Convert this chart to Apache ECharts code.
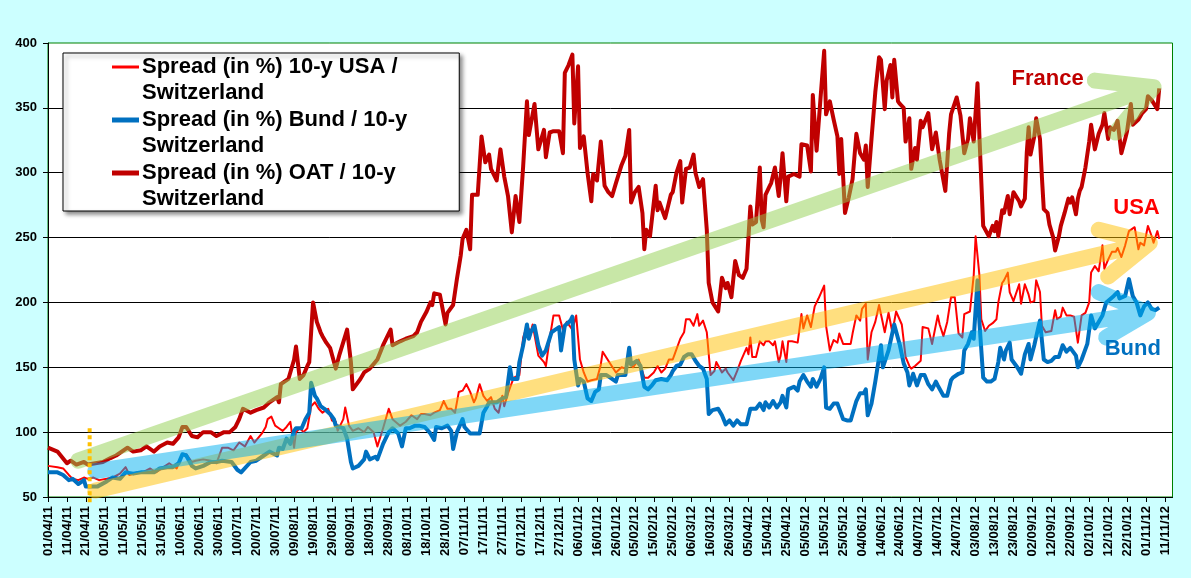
<!DOCTYPE html>
<html>
<head>
<meta charset="utf-8">
<script src="https://cdn.jsdelivr.net/npm/echarts@6/dist/echarts.min.js"></script>
<style>
html, body { margin: 0; padding: 0; background: #ccffff; }
#chart { width: 1191px; height: 578px; }
</style>
</head>
<body>
<div id="chart"></div>
<script>
// daily category axis, 01/04/11 .. 15/11/12
const startDay = Date.UTC(2011, 3, 1);
const dayCount = 595;

const seriesNames = [
	"Spread (in %) 10-y USA / Switzerland",
	"Spread (in %) Bund / 10-y Switzerland",
	"Spread (in %) OAT / 10-y Switzerland",
];
const legendLines = [
	["Spread (in %) 10-y USA /", "Switzerland"],
	["Spread (in %) Bund / 10-y", "Switzerland"],
	["Spread (in %) OAT / 10-y", "Switzerland"],
];

// [day index, spread in bp]
const usa = [
	[0,74],[5,73],[8,72],[11,67],[13,64],[16,63],[19,65],[21,64],[24,65],[27,63],[31,64],[34,65],[38,68],[41,73],[43,67],[47,69],[50,69],[54,72],[57,69],[61,73],[64,76],[68,72],[71,83],[73,83],[76,77],[78,78],[82,79],[86,78],[89,76],[92,88],[95,88],[98,86],
	[101,92],[104,89],[107,97],[109,92],[113,99],[115,104],[116,110],[118,112],[120,105],[122,103],[124,101],[126,104],[128,108],[130,88],[131,100],[133,103],[135,100],[137,103],[139,120],[141,123],[143,118],[145,115],[148,118],[150,109],[152,108],[153,101],[156,110],[157,119],[159,105],[161,101],[164,103],[167,100],[169,104],[172,100],[174,89],[177,103],[180,118],[182,110],[186,105],[189,108],[192,113],[195,110],[197,114],
	[199,114],[202,113],[204,115],[207,117],[209,124],[211,118],[213,118],[215,115],[217,131],[219,132],[221,137],[223,131],[225,123],[226,126],[228,137],[230,128],[232,124],[234,127],[236,118],[238,115],[240,128],[241,120],[243,130],[246,142],[249,144],[251,173],[253,182],[255,177],[256,183],[259,159],[262,154],[263,151],[265,172],[267,190],[270,190],[272,179],[274,185],[277,179],[279,190],[281,156],[283,146],[285,139],[287,140],[290,141],[292,152],[293,162],[296,155],
	[297,154],[300,146],[303,150],[305,149],[307,155],[309,150],[312,156],[315,142],[317,142],[320,146],[322,151],[324,146],[326,149],[328,156],[330,156],[331,160],[334,172],[336,177],[337,187],[339,187],[341,182],[343,191],[344,182],[346,186],[348,177],[350,144],[352,147],[353,154],[354,153],[356,146],[358,149],[359,146],[362,140],[364,147],[366,155],[367,154],[369,165],[370,160],[371,173],[372,158],[374,158],[376,170],[378,167],[379,170],[381,170],[383,167],[384,170],[386,154],[387,159],[388,170],[390,154],[391,170],[393,170],[396,169],[398,191],
	[399,180],[401,190],[403,181],[405,197],[407,203],[410,213],[411,182],[413,163],[415,171],[417,169],[418,176],[420,168],[422,168],[424,168],[425,176],[427,190],[429,186],[430,195],[432,199],[433,156],[435,177],[437,185],[439,198],[440,198],[442,177],[444,192],[446,177],[448,193],[451,183],[453,158],[455,151],[456,149],[458,151],[461,155],[462,181],[465,180],[467,168],[470,190],[471,183],[473,174],[475,185],[477,204],[479,204],[481,176],[483,173],[484,191],[487,193],[489,221],[490,251],[492,221],[493,187],[495,178],[497,182],[499,184],[501,187],
	[502,200],[504,215],[505,217],[507,223],[508,208],[510,201],[513,214],[514,199],[516,214],[518,206],[519,200],[521,201],[522,217],[524,208],[525,182],[527,177],[528,177],[530,178],[532,194],[533,187],[535,189],[536,196],[538,190],[540,190],[542,189],[544,169],[546,190],[548,192],[550,200],[551,223],[553,228],[555,224],[557,244],[558,226],[560,233],[562,239],[564,239],[565,242],[567,235],[569,244],[571,255],[572,254],[574,258],[576,241],[577,246],[579,244],[581,259],[583,251],[584,246],[586,255],[587,249],
];

const bund = [
	[0,69],[5,69],[8,67],[11,63],[13,64],[16,60],[19,63],[20,58],[23,58],[26,58],[31,62],[34,65],[38,64],[41,69],[45,68],[49,69],[52,69],[56,69],[59,72],[63,73],[66,73],[69,76],[71,83],[73,82],[76,74],[78,72],[82,74],[86,77],[89,77],[92,78],[97,77],[100,71],[102,69],
	[107,77],[110,78],[114,82],[117,85],[121,82],[122,88],[124,87],[126,95],[128,91],[130,101],[131,103],[134,103],[136,110],[138,115],[139,138],[141,128],[142,126],[144,120],[146,118],[149,114],[151,110],[152,105],[154,104],[156,103],[158,95],[160,77],[161,72],[164,74],[167,79],[168,85],[170,79],[173,81],[174,79],[177,91],[180,100],[182,103],[185,99],[187,89],[189,103],[191,103],[194,105],[196,105],
	[199,104],[202,99],[204,94],[205,104],[208,103],[211,105],[213,101],[214,87],[216,100],[219,110],[220,104],[223,99],[226,99],[228,99],[230,115],[232,120],[233,123],[237,123],[240,126],[242,127],[244,150],[245,141],[248,141],[249,154],[251,167],[253,183],[254,172],[255,177],[257,182],[259,167],[261,159],[263,163],[264,162],[266,177],[268,179],[270,181],[271,163],[273,182],[276,186],[277,189],[278,156],[280,136],[281,141],[283,139],[285,126],[287,124],[289,131],[291,133],[292,144],[295,144],[297,142],
	[300,139],[301,144],[305,144],[307,165],[308,152],[311,155],[313,151],[315,135],[317,133],[319,136],[321,140],[322,139],[324,141],[327,140],[329,144],[330,147],[332,151],[334,152],[336,158],[338,160],[340,160],[342,155],[344,151],[346,149],[348,141],[349,114],[351,117],[354,118],[356,113],[358,106],[360,109],[362,105],[364,109],[366,106],[369,106],[371,118],[374,118],[376,122],[378,117],[379,123],[381,119],[383,124],[385,119],[387,123],[388,128],[390,119],[391,133],[394,135],[396,132],[397,139],[399,144],[401,139],[403,135],
	[404,141],[406,135],[408,141],[410,150],[411,119],[413,118],[415,122],[417,122],[418,123],[420,110],[422,109],[424,109],[425,114],[427,124],[429,130],[431,130],[432,133],[433,113],[435,122],[437,139],[440,167],[441,150],[444,163],[447,183],[450,167],[452,153],[454,146],[455,136],[457,145],[459,136],[461,144],[463,144],[465,137],[467,133],[469,139],[470,136],[473,128],[475,128],[477,140],[478,142],[481,145],[483,146],[484,163],[486,168],[488,177],[489,172],[491,217],[492,185],[494,142],[496,139],[498,139],[500,141],
	[502,154],[503,165],[505,156],[506,163],[508,169],[509,156],[512,150],[514,145],[516,160],[518,168],[519,156],[521,167],[523,180],[524,186],[526,156],[528,154],[530,155],[532,158],[534,158],[536,167],[538,162],[540,165],[543,159],[544,150],[546,156],[549,168],[551,190],[553,180],[555,185],[557,190],[559,200],[560,200],[563,205],[565,208],[566,203],[569,205],[571,218],[573,205],[575,200],[577,190],[579,197],[581,200],[583,195],[585,194],[587,196],
];

const oat = [
	[0,88],[5,85],[10,76],[12,78],[15,75],[19,77],[21,75],[29,77],[33,80],[36,82],[42,88],[45,85],[49,86],[52,89],[56,85],[59,89],[63,92],[66,91],[69,96],[71,104],[73,104],[76,97],[79,96],[82,100],[86,100],[89,97],[93,100],[96,100],[99,104],[101,110],
	[103,118],[107,115],[110,117],[114,119],[117,123],[121,127],[122,123],[123,137],[127,141],[130,156],[131,166],[133,141],[135,144],[137,151],[138,154],[140,200],[142,185],[144,177],[145,174],[147,169],[149,165],[152,149],[154,160],[158,179],[160,154],[161,133],[165,141],[167,146],[170,149],[174,156],[177,167],[181,179],[182,167],[186,170],[189,172],[193,174],[195,177],[197,185],[200,193],[202,200],
	[203,198],[204,207],[207,206],[210,183],[211,192],[214,198],[216,218],[218,236],[219,249],[221,256],[223,241],[224,283],[227,283],[229,328],[231,308],[233,314],[234,303],[237,294],[239,318],[241,297],[243,282],[245,254],[247,282],[249,262],[251,305],[253,355],[254,329],[257,353],[259,318],[262,333],[263,312],[265,331],[267,332],[270,332],[272,315],[273,377],[275,383],[277,391],[278,338],[280,382],[281,319],[283,328],[285,300],[287,278],[288,299],[290,294],[292,324],[293,323],[294,290],[296,285],[298,282],[300,292],
	[303,306],[305,313],[307,333],[308,277],[310,285],[312,289],[314,269],[315,241],[316,256],[318,251],[321,290],[322,271],[323,277],[326,265],[329,283],[330,285],[332,300],[334,309],[335,277],[337,303],[339,304],[341,314],[342,300],[344,289],[346,295],[348,256],[349,215],[351,200],[354,193],[356,219],[358,211],[359,215],[361,204],[363,232],[365,221],[367,219],[369,226],[371,274],[372,260],[374,262],[376,304],[377,264],[378,258],[379,283],[381,289],[382,292],[384,304],[386,282],[387,297],[388,315],[390,278],[391,297],[394,299],[397,297],[398,322],
	[401,321],[403,301],[404,360],[406,317],[408,356],[410,394],[411,345],[413,355],[415,341],[417,328],[418,299],[419,326],[421,269],[423,281],[425,295],[427,330],[429,315],[431,310],[432,321],[433,289],[435,326],[437,362],[439,389],[440,387],[442,349],[443,371],[445,383],[446,358],[447,387],[449,355],[450,353],[452,350],[453,324],[455,342],[456,303],[458,319],[459,310],[461,340],[462,335],[465,346],[467,318],[469,331],[471,310],[474,286],[476,330],[477,345],[480,358],[482,344],[484,315],[486,326],[487,342],[489,324],[491,369],[492,328],[494,259],[497,251],[499,259],[500,255],[501,262],[502,251],
	[504,271],[505,269],[507,282],[508,268],[510,285],[513,278],[514,274],[516,280],[517,315],[518,335],[519,314],[521,328],[522,342],[524,326],[525,297],[526,272],[528,269],[529,260],[531,250],[532,240],[534,251],[535,259],[537,269],[539,280],[540,277],[541,281],[543,268],[544,280],[545,286],[546,289],[548,304],[550,324],[551,337],[553,318],[555,330],[557,337],[558,346],[560,326],[561,335],[563,333],[565,340],[567,315],[569,326],[570,332],[572,353],[573,337],[576,341],[578,346],[580,349],[581,359],[583,356],[586,349],[587,365],
];

// trend arrows: shaft start, tip, upper barb, tip, lower barb
const arrowFrance = [[16,78],[584,366],[553,371],[584,366],[564,331]];
const arrowUsa = [[25,55],[582,246],[555,256],[582,246],[560,220]];
const arrowBund = [[25,70],[581,192],[555,208],[581,192],[559,173]];

// dotted marker (22/04/11)
const markerLine = [[22,103],[22,44]];

const annotationNames = ["France", "USA", "Bund"];
const annotationPoints = [[528,372],[575,273],[573,164]];

const lineColors = ["#FF0000", "#0070C0", "#C00000"];
const lineWidths = [2, 4, 4];
const annotationColors = ["#C00000", "#FF0000", "#0070C0"];

const font = 'Arial, "Liberation Sans", sans-serif';

function dayLabel(i) {
	const d = new Date(startDay + i * 86400000);
	const dd = String(d.getUTCDate()).padStart(2, "0");
	const mm = String(d.getUTCMonth() + 1).padStart(2, "0");
	const yy = String(d.getUTCFullYear() % 100).padStart(2, "0");
	return dd + "/" + mm + "/" + yy;
}

const days = [];
for (let i = 0; i < dayCount; i++) days.push(dayLabel(i));

const chart = echarts.init(document.getElementById("chart"));

const rich = {
	t: { fontSize: 22, fontWeight: "bold", fontFamily: font, color: "#000", lineHeight: 26 },
	g: { width: 3 },
	sp: { width: 30 },
};
lineColors.forEach((c, i) => {
	rich["m" + i] = { width: 27, height: i === 0 ? 3 : 5, backgroundColor: c };
});

function arrowSeries(data, color) {
	return {
		type: "line",
		data: data,
		symbol: "none",
		silent: true,
		clip: false,
		lineStyle: { color: color, width: 16, opacity: 0.5, cap: "round", join: "round" },
		z: 5,
	};
}

const option = {
	animation: false,
	backgroundColor: "#ccffff",
	grid: {
		left: 48,
		right: 18.5,
		top: 43,
		bottom: 81,
		show: true,
		backgroundColor: "#fff",
		borderColor: "#008000",
		borderWidth: 1,
	},
	legend: {
		data: seriesNames,
		orient: "vertical",
		left: 63,
		top: 53,
		padding: [3, 52, 1, 43],
		itemGap: 5,
		itemWidth: 0,
		itemHeight: 0,
		itemStyle: { opacity: 0 },
		lineStyle: { opacity: 0 },
		backgroundColor: "#fff",
		borderColor: "#000",
		borderWidth: 1,
		shadowColor: "rgba(0,0,0,0.45)",
		shadowBlur: 4,
		shadowOffsetX: 3,
		shadowOffsetY: 3,
		selectedMode: false,
		formatter: function (name) {
			const i = seriesNames.indexOf(name);
			return "{m" + i + "|}{g|}{t|" + legendLines[i][0] + "}\n{sp|}{t|" + legendLines[i][1] + "}";
		},
		textStyle: { rich: rich },
	},
	xAxis: {
		type: "category",
		data: days,
		boundaryGap: false,
		axisLine: { lineStyle: { color: "#000", width: 1 } },
		axisTick: { interval: 9, length: 5, lineStyle: { color: "#000" } },
		axisLabel: {
			interval: 9,
			rotate: 90,
			margin: 9,
			color: "#000",
			fontSize: 13,
			fontWeight: "bold",
			fontFamily: font,
		},
		splitLine: { show: false },
	},
	yAxis: {
		type: "value",
		min: 50,
		max: 400,
		interval: 50,
		axisLine: { show: true, lineStyle: { color: "#000", width: 1 } },
		axisTick: { show: true, length: 5, lineStyle: { color: "#000" } },
		axisLabel: { margin: 11, color: "#000", fontSize: 13, fontWeight: "bold", fontFamily: font },
		splitLine: { show: true, showMaxLine: false, lineStyle: { color: "#000", width: 1 } },
	},
	series: [
		...[usa, bund, oat].map((d, i) => ({
			name: seriesNames[i],
			type: "line",
			data: d,
			symbol: "none",
			lineStyle: { color: lineColors[i], width: lineWidths[i], join: "round" },
			itemStyle: { color: lineColors[i] },
			z: 2 + i * 0.1,
		})),
		arrowSeries(arrowFrance, "#92D050"),
		arrowSeries(arrowUsa, "#FFC000"),
		arrowSeries(arrowBund, "#00B0F0"),
		{
			type: "line",
			data: markerLine,
			symbol: "none",
			silent: true,
			clip: false,
			lineStyle: { color: "#FFC000", width: 4, type: [4, 3] },
			z: 6,
		},
		{
			type: "scatter",
			silent: true,
			symbolSize: 1,
			itemStyle: { color: "rgba(0,0,0,0)", opacity: 1 },
			z: 7,
			data: annotationPoints.map((p, i) => ({
				value: p,
				label: {
					show: true,
					position: "inside",
					formatter: annotationNames[i],
					color: annotationColors[i],
					opacity: 1,
					fontSize: 22,
					fontWeight: "bold",
					fontFamily: font,
				},
			})),
		},
	],
};

chart.setOption(option);
</script>
</body>
</html>
